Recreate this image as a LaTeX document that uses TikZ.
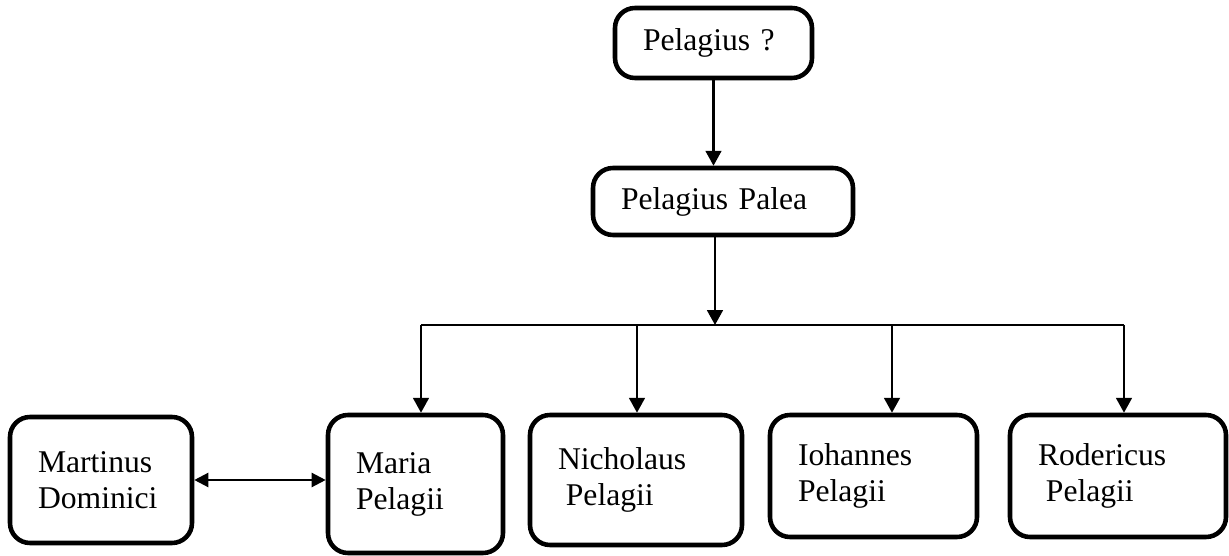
\documentclass[tikz,border=0pt]{standalone}
\usepackage{fontspec}
\setmainfont{Liberation Serif}
\usepackage{tikz}
\usetikzlibrary{arrows.meta,positioning}

\begin{document}
\begin{tikzpicture}[
  person/.style={
    rectangle, draw=black, fill=white, rounded corners=0.4cm,
    line width=2.6pt, inner xsep=0.56cm, inner ysep=0pt, align=left,
    font=\fontsize{18}{20.5}\selectfont
  },
  arr/.style={-{Triangle[length=8.5pt,width=9pt]}, line width=1.3pt},
  both/.style={{Triangle[length=8pt,width=8pt]}-{Triangle[length=8pt,width=8pt]}, line width=1.3pt},
  bar/.style={line width=0.9pt},
]
  \useasboundingbox (0,0) rectangle (24.58,-11.12);

  % Row 1: Pelagius
  \node[person, text width=2.82cm, minimum height=1.40cm] (top) at (14.27,-0.86) {Pelagius ?};
  \node[person, text width=4.08cm, minimum height=1.34cm] (palea) at (14.46,-4.03) {Pelagius Palea};

  % Row 2: bar
  \coordinate (join) at (14.30,-6.50);
  \coordinate (b1) at (8.42,-6.50);
  \coordinate (b2) at (12.74,-6.50);
  \coordinate (b3) at (17.84,-6.50);
  \coordinate (b4) at (22.48,-6.50);

  % Row 3: children
  \node[person, text width=2.52cm, minimum height=2.52cm] (martinus) at (2.02,-9.60) {Martinus\\Dominici};
  \node[person, text width=2.38cm, minimum height=2.76cm] (maria) at (8.31,-9.68) {Maria\\Pelagii};
  \node[person, text width=3.12cm, minimum height=2.60cm] (nicholaus) at (12.72,-9.60) {Nicholaus\\\hspace{0.25em}Pelagii};
  \node[person, text width=3.02cm, minimum height=2.44cm] (iohannes) at (17.47,-9.52) {Iohannes\\Pelagii};
  \node[person, text width=3.20cm, minimum height=2.44cm] (rodericus) at (22.36,-9.52) {Rodericus\\\hspace{0.25em}Pelagii};

  % Arrows
  \draw[arr] (top.south) -- (top.south |- palea.north);
  \draw[arr] (palea.south -| join) -- (join);
  \draw[bar] (b1) -- (b4);
  \draw[arr] (b1) -- (b1 |- maria.north);
  \draw[arr] (b2) -- (b2 |- nicholaus.north);
  \draw[arr] (b3) -- (b3 |- iohannes.north);
  \draw[arr] (b4) -- (b4 |- rodericus.north);
  \draw[both] (martinus.east) -- (martinus.east -| maria.west);
\end{tikzpicture}
\end{document}
